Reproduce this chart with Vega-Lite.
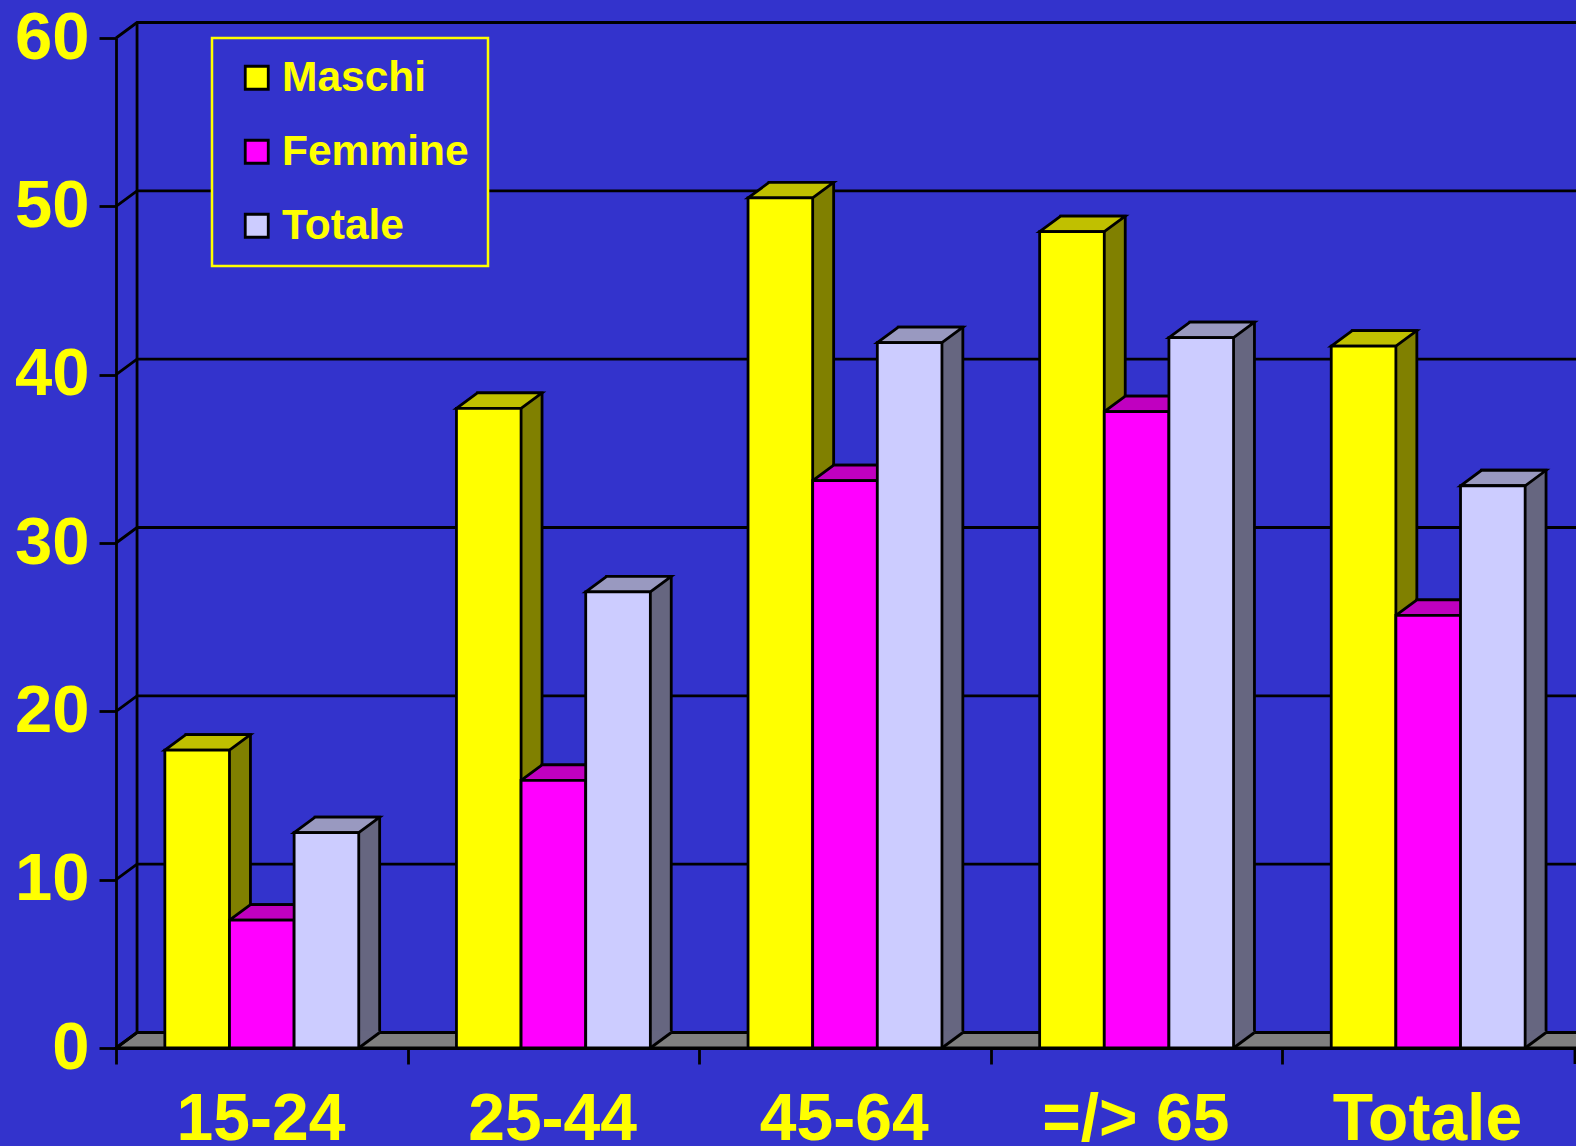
{
"$schema":"https://vega.github.io/schema/vega-lite/v6.json",
"autosize":{"type":"none"},
"padding":{"left":116,"top":38,"right":2,"bottom":98},
"width":1458,"height":1010,
"background":"#3333CC",
"view":{"stroke":null},
"config":{"font":"Liberation Sans","legend":{"strokeWidth":2.5}},
"datasets":{
"bars":[
{"eta":"15-24","serie":"Maschi","valore":17.7},
{"eta":"15-24","serie":"Femmine","valore":7.6},
{"eta":"15-24","serie":"Totale","valore":12.8},
{"eta":"25-44","serie":"Maschi","valore":38.0},
{"eta":"25-44","serie":"Femmine","valore":15.9},
{"eta":"25-44","serie":"Totale","valore":27.1},
{"eta":"45-64","serie":"Maschi","valore":50.5},
{"eta":"45-64","serie":"Femmine","valore":33.7},
{"eta":"45-64","serie":"Totale","valore":41.9},
{"eta":"=/> 65","serie":"Maschi","valore":48.5},
{"eta":"=/> 65","serie":"Femmine","valore":37.8},
{"eta":"=/> 65","serie":"Totale","valore":42.2},
{"eta":"Totale","serie":"Maschi","valore":41.7},
{"eta":"Totale","serie":"Femmine","valore":25.7},
{"eta":"Totale","serie":"Totale","valore":33.4}
],
"griglia":[{"v":0},{"v":10},{"v":20},{"v":30},{"v":40},{"v":50},{"v":60}]
},
"encoding":{
"x":{"field":"eta","type":"nominal","sort":null,"title":null,
 "scale":{"type":"band","domain":["15-24","25-44","45-64","=/> 65","Totale"],"paddingInner":0.335,"paddingOuter":0.1675},
 "axis":{"bandPosition":0,"tickOffset":-48.8,"labelOffset":47.5,"tickColor":"black","tickWidth":2.8,"tickSize":16,"domainColor":"black","domainWidth":2.8,"labelAngle":0,"labelColor":"#FFFF00","labelFont":"Liberation Sans","labelFontWeight":"bold","labelFontSize":66,"labelPadding":23,"labelOverlap":false,"labelFlush":false,"labelLimit":400,"grid":false}},
"y":{"field":"valore","type":"quantitative","title":null,
 "scale":{"domain":[0,60],"nice":false},
 "axis":{"values":[0,10,20,30,40,50,60],"tickColor":"black","tickWidth":2.8,"tickSize":17,"domainColor":"black","domainWidth":2.8,"labelColor":"#FFFF00","labelFont":"Liberation Sans","labelFontWeight":"bold","labelFontSize":67,"labelPadding":10,"grid":false}}
},
"layer":[
{"data":{"name":"griglia"},
 "mark":{"type":"point","filled":true,"opacity":1,"fill":"#808080","stroke":"black","strokeWidth":2.8,"size":4,"shape":"M-48.8,0 L-27.8,-15.5 L1600,-15.5 L1600,0 Z"},
 "transform":[{"filter":"datum.v === 0"}],
 "encoding":{"x":{"datum":"15-24","bandPosition":0},"y":{"field":"v","type":"quantitative"}}},
{"data":{"name":"griglia"},
 "mark":{"type":"point","filled":false,"opacity":1,"stroke":"black","strokeWidth":2.8,"size":4,"shape":"M-48.8,0 L-27.8,-15.5 L1600,-15.5"},
 "encoding":{"x":{"datum":"15-24","bandPosition":0},"y":{"field":"v","type":"quantitative"}}},
{"data":{"name":"griglia"},
 "mark":{"type":"point","filled":false,"opacity":1,"stroke":"black","strokeWidth":2.8,"size":4,"shape":"M-27.8,-15.5 L-27.8,-1025.5"},
 "transform":[{"filter":"datum.v === 0"}],
 "encoding":{"x":{"datum":"15-24","bandPosition":0},"y":{"field":"v","type":"quantitative"}}},
{"data":{"name":"griglia"},
 "mark":{"type":"point","filled":false,"opacity":1,"stroke":"black","strokeWidth":2.8,"size":4,"shape":"M49.8,0 L49.8,16"},
 "transform":[{"filter":"datum.v === 0"}],
 "encoding":{"x":{"datum":"Totale","bandPosition":1},"y":{"field":"v","type":"quantitative"}}},
{"data":{"name":"bars"},
 "mark":{"type":"bar","stroke":"black","strokeWidth":2.8,"yOffset":-15.5,"y2Offset":-15.5},
 "encoding":{
  "xOffset":{"field":"serie","scale":{"type":"band","domain":["Maschi","Femmine","Totale"],"paddingInner":0,"paddingOuter":0,"range":[21,214.8]}},
  "color":{"field":"serie","legend":null,"scale":{"domain":["Maschi","Femmine","Totale"],"range":["#808000","#800080","#666680"]}}}},
{"data":{"name":"bars"},
 "mark":{"type":"point","filled":true,"opacity":1,"strokeWidth":0,"size":4,"shape":"M31,0 L53.3,-15.5 L51.9,-17.2 L31,-17.2 Z"},
 "encoding":{
  "xOffset":{"field":"serie","scale":{"type":"band","domain":["Maschi","Femmine","Totale"],"paddingInner":0,"paddingOuter":0}},
  "y":{"datum":0},
  "color":{"field":"serie","legend":null,"scale":{"domain":["Maschi","Femmine","Totale"],"range":["#808000","#800080","#666680"]}}}},
{"data":{"name":"bars"},
 "mark":{"type":"point","filled":false,"opacity":1,"stroke":"black","strokeWidth":2.8,"size":4,"shape":"M32.3,0 L53.3,-15.5"},
 "encoding":{
  "xOffset":{"field":"serie","scale":{"type":"band","domain":["Maschi","Femmine","Totale"],"paddingInner":0,"paddingOuter":0}},
  "y":{"datum":0}}},
{"data":{"name":"bars"},
 "mark":{"type":"point","filled":true,"opacity":1,"stroke":"black","strokeWidth":2.8,"size":4,"shape":"M-32.3,0 L32.3,0 L53.3,-15.5 L-11.3,-15.5 Z"},
 "encoding":{
  "xOffset":{"field":"serie","scale":{"type":"band","domain":["Maschi","Femmine","Totale"],"paddingInner":0,"paddingOuter":0}},
  "color":{"field":"serie","legend":null,"scale":{"domain":["Maschi","Femmine","Totale"],"range":["#C0C000","#C000C0","#9999C0"]}}}},
{"data":{"name":"bars"},
 "mark":{"type":"bar","stroke":"black","strokeWidth":2.8},
 "encoding":{
  "xOffset":{"field":"serie","scale":{"type":"band","domain":["Maschi","Femmine","Totale"],"paddingInner":0,"paddingOuter":0}},
  "color":{"field":"serie","title":null,"scale":{"domain":["Maschi","Femmine","Totale"],"range":["#FFFF00","#FF00FF","#CCCCFF"]},
   "legend":{"orient":"none","legendX":96,"legendY":0,"padding":18.5,"fillColor":"#3333CC","strokeColor":"#FFFF00","symbolType":"square","symbolSize":529,"symbolStrokeColor":"black","symbolStrokeWidth":2.8,"symbolOpacity":1,"symbolOffset":5,"labelColor":"#FFFF00","labelFont":"Liberation Sans","labelFontWeight":"bold","labelFontSize":42.5,"labelOffset":4,"labelLimit":400,"rowPadding":31}}}}
],
"resolve":{"scale":{"color":"independent","xOffset":"independent"}}
}
